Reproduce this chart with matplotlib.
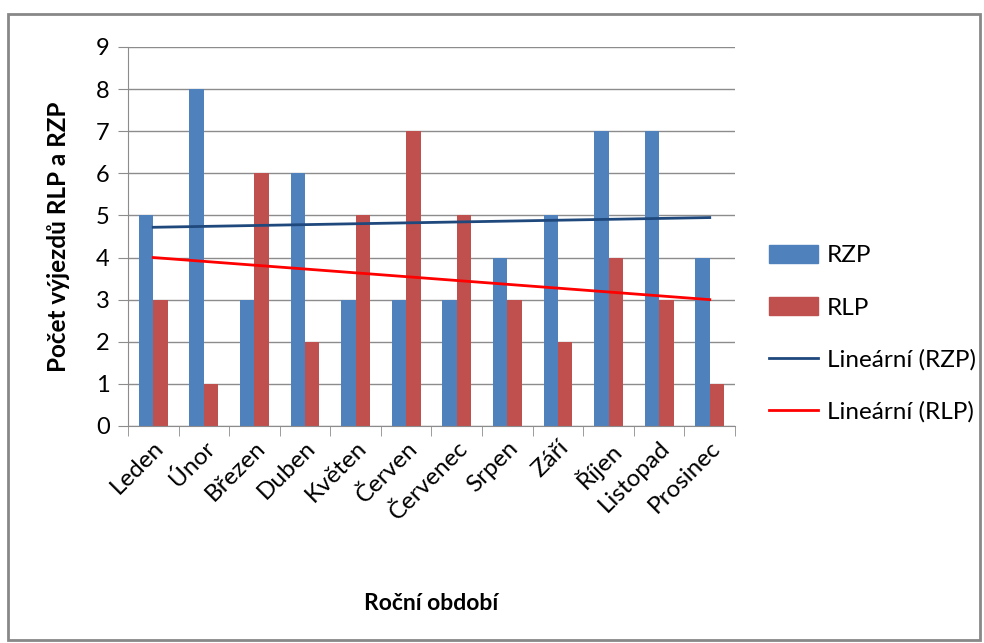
import numpy as np
import matplotlib.pyplot as plt
from matplotlib.patches import Rectangle, Patch
from matplotlib.lines import Line2D

plt.rcParams['font.family'] = ['Lato', 'DejaVu Sans']

# monthly counts of dispatches
months = ['Leden', 'Únor', 'Březen', 'Duben', 'Květen', 'Červen',
          'Červenec', 'Srpen', 'Září', 'Říjen', 'Listopad', 'Prosinec']
rzp = [5, 8, 3, 6, 3, 3, 3, 4, 5, 7, 7, 4]
rlp = [3, 1, 6, 2, 5, 7, 5, 3, 2, 4, 3, 1]

blue = '#4F81BD'
red = '#C0504D'

fig = plt.figure(figsize=(9.84, 6.43), dpi=100)
ax = fig.add_axes([0.130, 0.3375, 0.617, 0.5895])

x = np.arange(len(months))
w = 1 / 3.5
ax.bar(x - w / 2, rzp, w, color=blue, zorder=2)
ax.bar(x + w / 2, rlp, w, color=red, zorder=2)

# linear trend lines
k1, q1 = np.polyfit(x, rzp, 1)
k2, q2 = np.polyfit(x, rlp, 1)
ax.plot(x, k1 * x + q1, color='#1F497D', lw=2, zorder=3)
ax.plot(x, k2 * x + q2, color='#FF0000', lw=2, zorder=3)

ax.set_xlim(-0.5, len(months) - 0.5)
ax.set_ylim(0, 9)
ax.set_yticks(range(10))
ax.yaxis.grid(True, color='#8C8C8C', lw=1)
ax.set_axisbelow(True)

for s in ['top', 'right']:
    ax.spines[s].set_visible(False)
ax.spines['left'].set_color('#8C8C8C')
ax.spines['bottom'].set_color('#8C8C8C')

ax.set_xticks(x)
ax.set_xticklabels(months, rotation=45, ha='right', rotation_mode='anchor', fontsize=17.5)
ax.set_xticks(np.arange(-0.5, len(months)), minor=True)
ax.tick_params(axis='x', which='major', length=0, pad=8)
ax.tick_params(axis='x', which='minor', length=7, color='#8C8C8C')
ax.tick_params(axis='y', length=7, color='#8C8C8C', labelsize=17, pad=6)

ax.set_ylabel('Počet výjezdů RLP a RZP', fontsize=17.5, fontweight='bold')
ax.yaxis.set_label_coords(-0.095, 0.5)
ax.set_xlabel('Roční období', fontsize=16.5, fontweight='bold')
ax.xaxis.set_label_coords(0.5, -0.44)

handles = [Patch(color=blue), Patch(color=red),
           Line2D([], [], color='#1F497D', lw=2),
           Line2D([], [], color='#FF0000', lw=2)]
labels = ['RZP', 'RLP', 'Lineární (RZP)', 'Lineární (RLP)']
fig.legend(handles, labels, loc='center left', bbox_to_anchor=(0.782, 0.481),
           frameon=False, fontsize=17.5, handlelength=2.0, handleheight=0.8,
           labelspacing=1.25, handletextpad=0.35, borderaxespad=0, borderpad=0)

# outer chart frame
fig.add_artist(Rectangle((8 / 984, 3 / 643), 972 / 984, 626 / 643,
                         transform=fig.transFigure, fill=False,
                         edgecolor='#888888', lw=2))

fig.savefig('out.png', dpi=100)
